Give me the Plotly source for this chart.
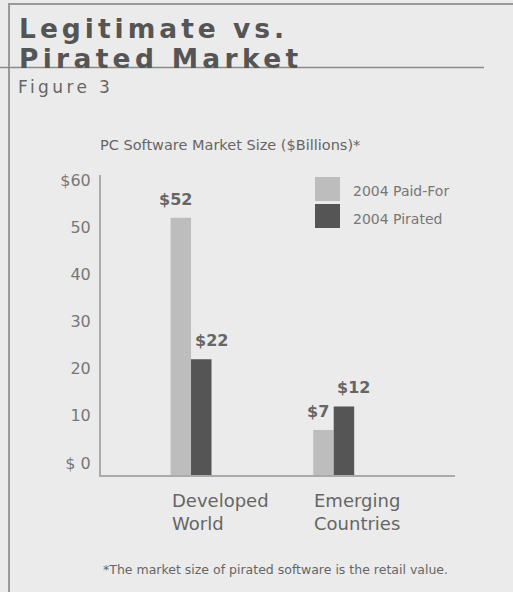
import plotly.graph_objects as go

# ---- data ----
categories = ["Developed World", "Emerging Countries"]
category_labels = ["Developed<br>World", "Emerging<br>Countries"]
series_names = ["2004 Paid-For", "2004 Pirated"]
paid_for = [52, 7]
pirated = [22, 12]
y_tick_vals = [0, 10, 20, 30, 40, 50, 60]
y_tick_text = ["$ 0", "10", "20", "30", "40", "50", "$60"]

# ---- style / layout ----
W, H = 513, 592
ML, MR, MT, MB = 101, 58, 175, 117
PW, PH = W - ML - MR, H - MT - MB
Y_MIN, Y_MAX = -2.54, 61.06
X_MIN, X_MAX = -0.631, 1.850
BG = "#ebebeb"
C_PAID = "#bdbdbd"
C_PIR = "#555555"
FONT = "DejaVu Sans"
BAR_PX = 20.5


def px_x(x):
    return (x - ML) / PW


def px_y(y):
    return (H - MB - y) / PH


def spaced(text, px):
    return f'<span style="letter-spacing:{px}px">{text}</span>'


fig = go.Figure()
series = [(series_names[0], paid_for, C_PAID), (series_names[1], pirated, C_PIR)]
for name, vals, col in series:
    fig.add_trace(go.Bar(
        x=categories, y=[v - Y_MIN for v in vals], base=Y_MIN, name=name,
        marker=dict(color=col, line=dict(width=0)), showlegend=False,
        hoverinfo="skip"))

annotations = []
# value labels
label_dx = [-5, 10]
for s, (name, vals, col) in enumerate(series):
    for cat, v in zip(categories, vals):
        annotations.append(dict(
            x=cat, y=v, xref="x", yref="y", showarrow=False,
            text=f"${v}", yanchor="bottom", yshift=7,
            xshift=(s - 0.5) * BAR_PX + label_dx[s],
            font=dict(family=FONT, size=16, color="#666666", weight="bold")))

# category labels (left aligned at group start)
for cat, lab in zip(categories, category_labels):
    annotations.append(dict(
        x=cat, y=px_y(488), xref="x", yref="paper", showarrow=False,
        text=lab, xanchor="left", yanchor="top", align="left", xshift=-BAR_PX - 1,
        font=dict(family=FONT, size=18, color="#666666")))

# titles and notes
annotations += [
    dict(x=px_x(17), y=px_y(28.3), xref="paper", yref="paper", showarrow=False,
         text=spaced("Legitimate vs.", 4), xanchor="left", yanchor="middle",
         font=dict(family=FONT, size=26.5, color="#555555", weight="bold")),
    dict(x=px_x(17), y=px_y(58.8), xref="paper", yref="paper", showarrow=False,
         text=spaced("Pirated Market", 4.3), xanchor="left", yanchor="middle",
         font=dict(family=FONT, size=26.5, color="#555555", weight="bold")),
    dict(x=px_x(16), y=px_y(87), xref="paper", yref="paper", showarrow=False,
         text=spaced("Figure 3", 3.4), xanchor="left", yanchor="middle",
         font=dict(family=FONT, size=17, color="#666666")),
    dict(x=px_x(230), y=px_y(145), xref="paper", yref="paper", showarrow=False,
         text="PC Software Market Size ($Billions)*", xanchor="center", yanchor="middle",
         font=dict(family=FONT, size=14.5, color="#666666")),
    dict(x=px_x(275), y=px_y(569), xref="paper", yref="paper", showarrow=False,
         text="*The market size of pirated software is the retail value.",
         xanchor="center", yanchor="middle",
         font=dict(family=FONT, size=12.5, color="#666666")),
]

# manual legend
legend_rows = [(177, 201, 191), (204, 228, 219)]
shapes = []
for (name, vals, col), (y0, y1, yc) in zip(series, legend_rows):
    shapes.append(dict(type="rect", xref="paper", yref="paper",
                       x0=px_x(315), x1=px_x(340), y0=px_y(y1), y1=px_y(y0),
                       fillcolor=col, line=dict(width=0)))
    annotations.append(dict(x=px_x(351), y=px_y(yc), xref="paper", yref="paper",
                            showarrow=False, text=name, xanchor="left", yanchor="middle",
                            font=dict(family=FONT, size=14, color="#777777")))

# frame lines
shapes += [
    dict(type="line", xref="paper", yref="paper", x0=px_x(9), x1=px_x(9),
         y0=px_y(4), y1=px_y(H + 5), line=dict(color="#999999", width=2)),
    dict(type="line", xref="paper", yref="paper", x0=px_x(8), x1=px_x(W + 5),
         y0=px_y(4), y1=px_y(4), line=dict(color="#999999", width=2)),
    dict(type="line", xref="paper", yref="paper", x0=px_x(0), x1=px_x(484),
         y0=px_y(67.5), y1=px_y(67.5), line=dict(color="#8a8a8a", width=1.5)),
]

fig.update_layout(
    width=W, height=H, margin=dict(l=ML, r=MR, t=MT, b=MB, pad=0),
    paper_bgcolor=BG, plot_bgcolor=BG,
    barmode="group", bargap=0.713, bargroupgap=0,
    showlegend=False, hovermode=False,
    annotations=annotations, shapes=shapes,
    xaxis=dict(range=[X_MIN, X_MAX], showticklabels=False, showgrid=False,
               zeroline=False, showline=True, linecolor="#aaaaaa", linewidth=2,
               ticks="", fixedrange=True),
    yaxis=dict(range=[Y_MIN, Y_MAX], tickvals=y_tick_vals, ticktext=y_tick_text,
               showgrid=False, zeroline=False, showline=True, linecolor="#aaaaaa",
               linewidth=2, ticks="outside", ticklen=5, tickcolor="rgba(0,0,0,0)",
               tickfont=dict(family=FONT, size=16, color="#777777"), fixedrange=True),
)

fig.write_html("out.html", config={"displayModeBar": False})
